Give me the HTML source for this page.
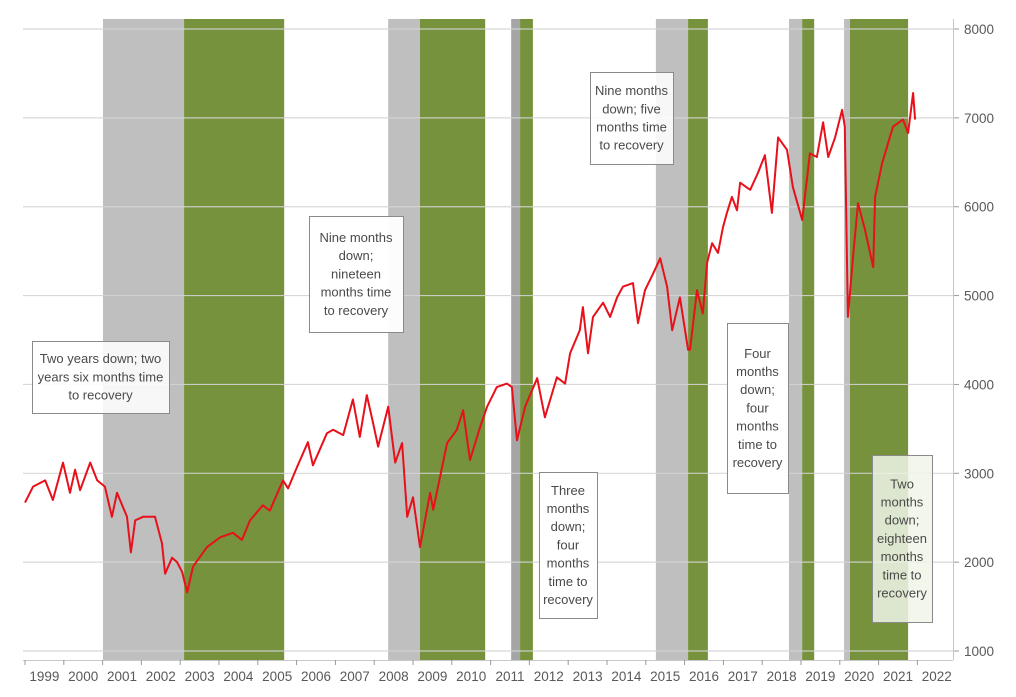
<!DOCTYPE html>
<html><head><meta charset="utf-8"><style>
html,body{margin:0;padding:0;background:#fff;}
svg{display:block;font-family:"Liberation Sans",sans-serif;}
.note{fill:#4a4a4a;font-size:13px;}
</style></head><body>
<svg id="chart" width="1016" height="697" viewBox="0 0 1016 697" xmlns="http://www.w3.org/2000/svg">
<g id="bands"></g>
<g id="grid"></g>
<g id="axes"></g>
<g id="series"></g>
<g id="notes"></g>
</svg>
<script>
const dates = [1999.00,1999.21,1999.52,1999.72,1999.98,2000.16,2000.29,2000.42,2000.68,2000.86,2001.06,2001.24,2001.37,2001.63,2001.73,2001.84,2002.04,2002.35,2002.53,2002.61,2002.79,2002.92,2003.05,2003.18,2003.33,2003.69,2004.03,2004.36,2004.59,2004.80,2005.13,2005.31,2005.65,2005.78,2006.01,2006.29,2006.42,2006.78,2006.94,2007.20,2007.45,2007.63,2007.81,2007.97,2008.10,2008.36,2008.54,2008.72,2008.85,2009.00,2009.18,2009.44,2009.52,2009.88,2010.13,2010.29,2010.47,2010.73,2010.91,2011.16,2011.42,2011.55,2011.68,2011.89,2012.20,2012.40,2012.71,2012.92,2013.05,2013.30,2013.38,2013.51,2013.64,2013.90,2014.08,2014.26,2014.41,2014.67,2014.80,2014.98,2015.19,2015.37,2015.55,2015.68,2015.88,2016.09,2016.14,2016.32,2016.47,2016.58,2016.71,2016.86,2016.99,2017.09,2017.22,2017.35,2017.43,2017.69,2017.89,2018.07,2018.25,2018.41,2018.64,2018.79,2019.03,2019.23,2019.41,2019.57,2019.70,2019.88,2020.06,2020.13,2020.21,2020.34,2020.47,2020.65,2020.86,2020.91,2021.09,2021.37,2021.63,2021.76,2021.89,2021.94];
const values = [2670,2850,2920,2700,3120,2780,3040,2810,3120,2920,2850,2510,2780,2510,2110,2470,2510,2510,2210,1870,2050,2000,1890,1660,1950,2170,2280,2330,2250,2470,2640,2580,2920,2830,3070,3350,3090,3450,3490,3430,3830,3410,3880,3570,3300,3750,3120,3340,2510,2730,2170,2780,2590,3340,3490,3710,3150,3520,3750,3970,4010,3970,3370,3750,4070,3630,4080,4010,4350,4610,4870,4350,4760,4920,4760,4980,5100,5140,4690,5060,5250,5420,5100,4610,4980,4390,4390,5060,4800,5370,5590,5480,5770,5930,6110,5960,6270,6190,6380,6580,5930,6780,6640,6220,5850,6600,6560,6950,6560,6780,7090,6900,4760,5430,6040,5740,5320,6110,6490,6900,6980,6830,7280,6980];
const bandStarts = [2001.01,2003.10,2008.36,2009.18,2011.53,2011.76,2015.26,2016.09,2018.69,2019.03,2020.11,2020.26];
const bandEnds   = [2003.10,2005.68,2009.18,2010.86,2011.76,2012.09,2016.09,2016.60,2019.03,2019.34,2020.26,2021.76];
const bandKinds  = ["down","recovery","down","recovery","downdark","recovery","down","recovery","down","recovery","down","recovery"];
const yTicks = [1000,2000,3000,4000,5000,6000,7000,8000];
const years = [1999,2000,2001,2002,2003,2004,2005,2006,2007,2008,2009,2010,2011,2012,2013,2014,2015,2016,2017,2018,2019,2020,2021,2022];

const NS="http://www.w3.org/2000/svg";
function X(d){return 25+(d-1999)*38.8;}
function Y(v){return 29+(8000-v)*0.08886;}
function mk(tag,attrs,parent){const e=document.createElementNS(NS,tag);for(const k in attrs)e.setAttribute(k,attrs[k]);parent.appendChild(e);return e;}
const colors={down:"#bfbfbf",recovery:"#76923c",downdark:"#a5a5a5"};
const bands=document.getElementById('bands');
bandStarts.forEach((s,i)=>{
  const r=mk('rect',{x:X(s),y:19,width:X(bandEnds[i])-X(s),height:641,fill:colors[bandKinds[i]]},bands);
  
  
});
const grid=document.getElementById('grid'),axes=document.getElementById('axes');
yTicks.forEach(v=>{
  const l=mk('line',{x1:23,x2:953,y1:Y(v),y2:Y(v),stroke:"#d4d4d4","stroke-width":1.2,"stroke-opacity":0.9},grid);
  
  
  mk('line',{x1:953,x2:959,y1:Y(v),y2:Y(v),stroke:"#999"},axes);
  const t=mk('text',{x:964,y:Y(v)+5,fill:"#595959","font-size":13.5},axes);
  t.textContent=v;
  
  
});
const ra=mk('line',{x1:953.5,x2:953.5,y1:19,y2:660,stroke:"#c8c8c8"},axes);


const ba=mk('line',{x1:23,x2:953,y1:660.5,y2:660.5,stroke:"#c8c8c8"},axes);


years.forEach(yr=>{
  mk('line',{x1:X(yr),x2:X(yr),y1:660,y2:665,stroke:"#999"},axes);
  const t=mk('text',{x:X(yr)+19.4,y:681,fill:"#595959","font-size":13.5,"text-anchor":"middle"},axes);
  t.textContent=yr;
  
  
});
const series=document.getElementById('series');
const p=mk('path',{d:dates.map((d,i)=>(i?'L':'M')+X(d).toFixed(1)+' '+Y(values[i]).toFixed(1)).join(' '),fill:"none",stroke:"#e8101a","stroke-width":2,"stroke-linejoin":"round"},series);



const notes=[
 {x:32,y:341,w:137,h:72,lines:["Two years down; two","years six months time","to recovery"],bg:"rgba(255,255,255,0.88)"},
 {x:309,y:216,w:94,h:116,lines:["Nine months","down;","nineteen","months time","to recovery"],bg:"rgba(255,255,255,0.95)"},
 {x:590,y:72,w:83,h:92,lines:["Nine months","down; five","months time","to recovery"],bg:"rgba(255,255,255,0.88)"},
 {x:539,y:472,w:58,h:146,lines:["Three","months","down;","four","months","time to","recovery"],bg:"rgba(255,255,255,0.95)"},
 {x:727,y:323,w:61,h:170,lines:["Four","months","down;","four","months","time to","recovery"],bg:"rgba(255,255,255,0.95)"},
 {x:872,y:455,w:60,h:167,lines:["Two","months","down;","eighteen","months","time to","recovery"],bg:"rgba(240,244,232,0.85)"}
];
const ng=document.getElementById('notes');
notes.forEach((n,i)=>{
  const g=mk('g',{},ng);
  
  
  mk('rect',{x:n.x+0.5,y:n.y+0.5,width:n.w,height:n.h,fill:n.bg,stroke:"#8a8a8a"},g);
  const lh=18.2, top=n.y+(n.h-n.lines.length*lh)/2+13.5;
  n.lines.forEach((s,j)=>{
    const t=mk('text',{x:n.x+n.w/2,y:top+j*lh,class:"note","text-anchor":"middle"},g);
    t.textContent=s;
  });
});
</script>
</body></html>
